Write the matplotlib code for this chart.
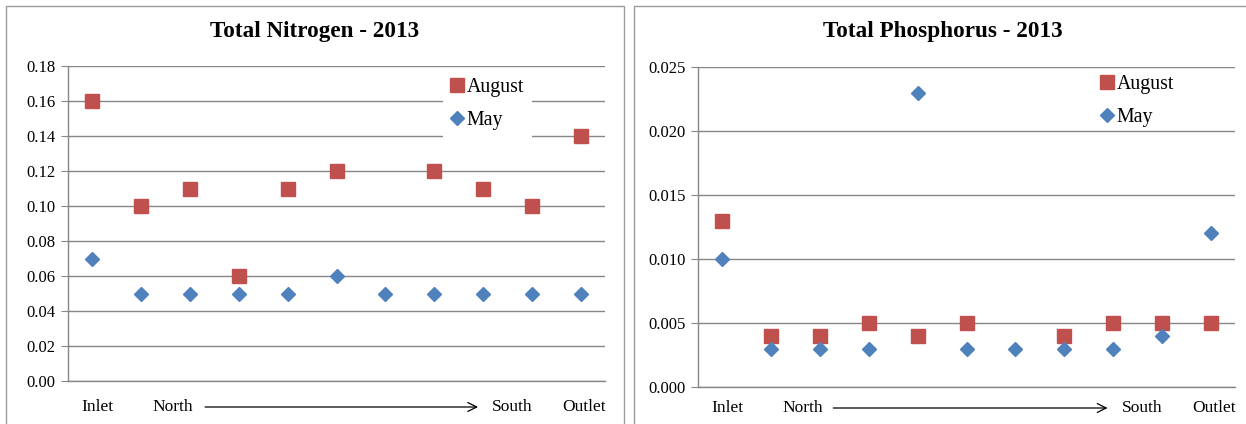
import matplotlib.pyplot as plt
from matplotlib.patches import Rectangle
from matplotlib.transforms import blended_transform_factory
import numpy as np

plt.rcParams["font.family"] = ["Liberation Serif", "DejaVu Serif"]

# sampling stations, inlet to outlet (north -> south)
stations = list(range(11))

nitrogen_aug = [0.16, 0.10, 0.11, 0.06, 0.11, 0.12, np.nan, 0.12, 0.11, 0.10, 0.14]
nitrogen_may = [0.07, 0.05, 0.05, 0.05, 0.05, 0.06, 0.05, 0.05, 0.05, 0.05, 0.05]

phosphorus_aug = [0.013, 0.004, 0.004, 0.005, 0.004, 0.005, np.nan, 0.004, 0.005, 0.005, 0.005]
phosphorus_may = [0.010, 0.003, 0.003, 0.003, 0.023, 0.003, 0.003, 0.003, 0.003, 0.004, 0.012]

nitrogen_ticks = [0.00, 0.02, 0.04, 0.06, 0.08, 0.10, 0.12, 0.14, 0.16, 0.18]
phosphorus_ticks = [0.000, 0.005, 0.010, 0.015, 0.020, 0.025]

RED = "#C0504D"
BLUE = "#4F81BD"
GRID = "#868686"

W, H = 1246, 424
fig = plt.figure(figsize=(W / 100, H / 100), dpi=100)


def px(x0, y_top, x1, y_bot):
    return [x0 / W, 1 - y_bot / H, (x1 - x0) / W, (y_bot - y_top) / H]


def panel(rect, frame, title, aug, may, ticks, fmt, label_y, arrow, legend_xy, pad):
    # chart frame
    fx0, fx1 = frame
    fig.add_artist(Rectangle((fx0 / W, -0.1), (fx1 - fx0) / W, 1.1 - 6 / H,
                             transform=fig.transFigure, fill=False,
                             edgecolor="#9a9a9a", linewidth=1.0))
    fig.text((fx0 + fx1) / 2 / W, 1 - 32 / H, title, ha="center", va="center",
             fontsize=16.7, fontweight="bold")

    ax = fig.add_axes(rect)
    ax.plot(stations, aug, linestyle="none", marker="s", markersize=9.6,
            color=RED, label="August", zorder=3)
    ax.plot(stations, may, linestyle="none", marker="D", markersize=7,
            color=BLUE, label="May", zorder=3)

    ax.set_xlim(-0.5, 10.5)
    ax.set_ylim(ticks[0], ticks[-1])
    ax.set_yticks(ticks)
    ax.set_yticklabels([fmt.format(t) for t in ticks])
    ax.set_xticks([])
    ax.tick_params(axis="y", length=5, color=GRID, labelsize=12, pad=4)
    ax.grid(True, axis="y", color=GRID, linewidth=1.0)
    ax.set_axisbelow(True)
    for side in ("top", "right"):
        ax.spines[side].set_visible(False)
    for side in ("left", "bottom"):
        ax.spines[side].set_color(GRID)
        ax.spines[side].set_linewidth(1.0)

    trans = blended_transform_factory(ax.transData, fig.transFigure)
    y = 1 - label_y / H
    for xpos, text in [(0.1, "Inlet"), (1.65, "North"), (8.6, "South"), (10.07, "Outlet")]:
        ax.text(xpos, y, text, transform=trans, ha="center", va="center",
                fontsize=12.5, clip_on=False)
    ax.annotate("", xy=(arrow[1], y), xytext=(arrow[0], y),
                xycoords=trans, textcoords=trans,
                arrowprops=dict(arrowstyle="->", color="black", lw=0.9,
                                mutation_scale=16, shrinkA=0, shrinkB=0))

    leg = ax.legend(loc="upper left", bbox_to_anchor=(legend_xy[0] / W, 1 - legend_xy[1] / H),
                    bbox_transform=fig.transFigure, frameon=True, framealpha=1,
                    edgecolor="none", fontsize=14.3, handlelength=0.6,
                    handletextpad=0.2, labelspacing=0.7, borderpad=pad,
                    borderaxespad=0, fancybox=False)
    leg.get_frame().set_linewidth(0)
    return ax


panel(px(68, 66, 605, 381), (6, 624), "Total Nitrogen - 2013",
      nitrogen_aug, nitrogen_may, nitrogen_ticks, "{:.2f}",
      407, (2.31, 7.9), (443, 70), 0.4)
panel(px(698, 67, 1235, 387), (634, 1252), "Total Phosphorus - 2013",
      phosphorus_aug, phosphorus_may, phosphorus_ticks, "{:.3f}",
      408, (2.27, 7.89), (1098, 72), 0.15)

fig.savefig("out.png", dpi=100)
